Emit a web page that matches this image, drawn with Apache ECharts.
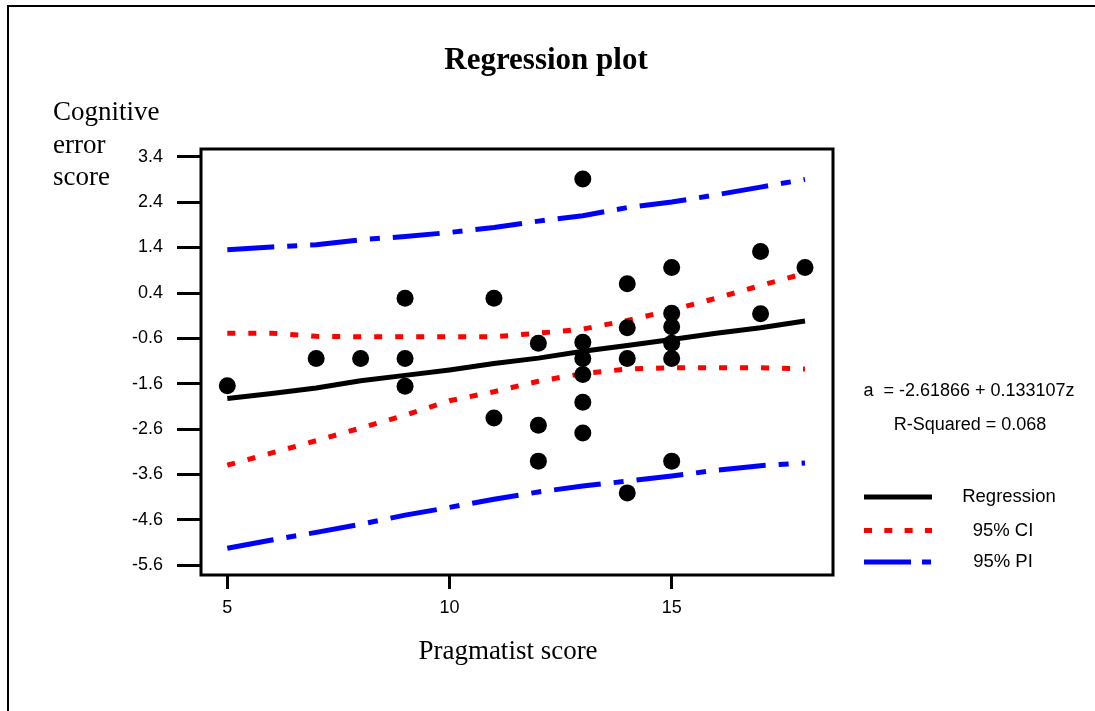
<!DOCTYPE html>
<html>
<head>
<meta charset="utf-8">
<script src="https://cdn.jsdelivr.net/npm/echarts@6/dist/echarts.min.js"></script>
<style>
html,body{margin:0;padding:0;background:#fff;}
#chart{width:1095px;height:711px;}
</style>
</head>
<body>
<div id="chart"></div>
<script>
// ---- data ----
const xTicks = [5, 10, 15];
const yTicks = [-5.6, -4.6, -3.6, -2.6, -1.6, -0.6, 0.4, 1.4, 2.4, 3.4];

const pointsX = [5, 7, 8, 9, 9, 9, 11, 11, 12, 12, 12, 13, 13, 13, 13, 13, 13, 14, 14, 14, 14, 15, 15, 15, 15, 15, 15, 17, 17, 18];
const pointsY = [-1.65, -1.05, -1.05, 0.28, -1.05, -1.66, 0.28, -2.36, -0.71, -2.52, -3.31, 2.91, -0.69, -1.05, -1.40, -2.01, -2.69, 0.60, -0.37, -1.05, -4.01, 0.96, -0.05, -0.35, -0.71, -1.05, -3.31, 1.31, -0.06, 0.96];

const lineX    = [5, 6, 7, 8, 9, 10, 11, 12, 13, 14, 15, 16, 17, 18];
const regY     = [-1.93, -1.82, -1.70, -1.54, -1.42, -1.30, -1.16, -1.04, -0.89, -0.76, -0.63, -0.49, -0.37, -0.22];
const ciUpper  = [-0.49, -0.49, -0.56, -0.57, -0.57, -0.57, -0.57, -0.49, -0.40, -0.21, 0.02, 0.28, 0.56, 0.83];
const ciLower  = [-3.40, -3.13, -2.86, -2.58, -2.30, -1.98, -1.78, -1.55, -1.38, -1.28, -1.25, -1.25, -1.25, -1.28];
const piUpper  = [1.35, 1.41, 1.46, 1.57, 1.64, 1.73, 1.84, 1.98, 2.10, 2.28, 2.40, 2.56, 2.73, 2.90];
const piLower  = [-5.23, -5.05, -4.88, -4.70, -4.50, -4.33, -4.15, -3.99, -3.86, -3.75, -3.64, -3.51, -3.41, -3.35];

const titleText = 'Regression plot';
const xName = 'Pragmatist score';
const yNameLines = ['Cognitive', 'error', 'score'];
const equationText = 'a  = -2.61866 + 0.133107z';
const rSquaredText = 'R-Squared = 0.068';
const legendNames = ['Regression', '95% CI', '95% PI'];

// ---- build ----
const pairs = (xs, ys) => xs.map((x, i) => [x, ys[i]]);
const SANS = '"Liberation Sans", Arial, sans-serif';
const SERIF = '"Liberation Serif", "Times New Roman", serif';

const chart = echarts.init(document.getElementById('chart'), null, {renderer: 'canvas'});

const lineSeries = (name, ys, color, dash, z) => ({
  name, type: 'line', data: pairs(lineX, ys), showSymbol: false, symbol: 'none',
  lineStyle: {color, width: 5, type: dash, cap: 'butt', join: 'miter'},
  z, silent: true
});

const legendY = [497, 530.5, 562];
const legendStyles = [
  {stroke: '#000000', lineDash: null},
  {stroke: '#ff0000', lineDash: [8, 12.3]},
  {stroke: '#0000ff', lineDash: [47, 11, 9, 11]}
];
const legendTextX = [1009, 1003, 1003];

const graphics = [
  {type: 'rect', shape: {x: 8, y: 6, width: 1120, height: 740}, style: {fill: 'none', stroke: '#000', lineWidth: 2}, silent: true, z: 0},
  {type: 'text', style: {text: xName, x: 508, y: 652, font: '27px ' + SERIF, fill: '#000', align: 'center', verticalAlign: 'middle'}}
];
yNameLines.forEach((t, i) => graphics.push({
  type: 'text', style: {text: t, x: 53, y: [113, 146, 178][i], font: '27px ' + SERIF, fill: '#000', align: 'left', verticalAlign: 'middle'}
}));
graphics.push({type: 'text', style: {text: equationText, x: 969, y: 391, font: '18px ' + SANS, fill: '#000', align: 'center', verticalAlign: 'middle'}});
graphics.push({type: 'text', style: {text: rSquaredText, x: 970, y: 425, font: '18px ' + SANS, fill: '#000', align: 'center', verticalAlign: 'middle'}});
legendNames.forEach((n, i) => {
  const st = {stroke: legendStyles[i].stroke, lineWidth: 5, lineCap: 'butt'};
  if (legendStyles[i].lineDash) st.lineDash = legendStyles[i].lineDash;
  graphics.push({type: 'line', shape: {x1: 864, y1: legendY[i], x2: 932, y2: legendY[i]}, style: st, silent: true});
  graphics.push({type: 'text', style: {text: n, x: legendTextX[i], y: legendY[i], font: '18.5px ' + SANS, fill: '#000', align: 'center', verticalAlign: 'middle'}});
});

chart.setOption({
  animation: false,
  backgroundColor: '#ffffff',
  title: {
    text: titleText, left: 541, top: 40, textAlign: 'center',
    textStyle: {fontFamily: SERIF, fontWeight: 'bold', fontSize: 31, color: '#000'}
  },
  grid: {left: 201, top: 149, width: 632, height: 426, show: true, borderColor: '#000', borderWidth: 3, backgroundColor: 'transparent', containLabel: false},
  xAxis: {
    type: 'value', min: 4.408, max: 18.63, position: 'bottom',
    axisLine: {show: false, onZero: false},
    splitLine: {show: false},
    axisTick: {show: true, inside: false, length: 14, lineStyle: {color: '#000', width: 3}, customValues: xTicks},
    axisLabel: {show: true, margin: 24, fontFamily: SANS, fontSize: 18, color: '#000', customValues: xTicks, formatter: v => String(v)}
  },
  yAxis: {
    type: 'value', min: -5.82, max: 3.57, position: 'left',
    axisLine: {show: false, onZero: false},
    splitLine: {show: false},
    axisTick: {show: true, inside: false, length: 24, lineStyle: {color: '#000', width: 3}, customValues: yTicks},
    axisLabel: {show: true, margin: 38, fontFamily: SANS, fontSize: 18, color: '#000', customValues: yTicks, formatter: v => Number(v).toFixed(1)}
  },
  graphic: graphics,
  series: [
    lineSeries('95% PI upper', piUpper, '#0000ff', [47, 13, 10, 13], 2),
    lineSeries('95% PI lower', piLower, '#0000ff', [47, 13, 10, 13], 2),
    lineSeries('95% CI upper', ciUpper, '#ff0000', [8, 13], 3),
    lineSeries('95% CI lower', ciLower, '#ff0000', [8, 13], 3),
    lineSeries('Regression', regY, '#000000', 'solid', 4),
    {
      name: 'Data', type: 'scatter', data: pairs(pointsX, pointsY),
      symbol: 'circle', symbolSize: 17, itemStyle: {color: '#000', opacity: 1}, z: 5, silent: true
    }
  ]
});
</script>
</body>
</html>
